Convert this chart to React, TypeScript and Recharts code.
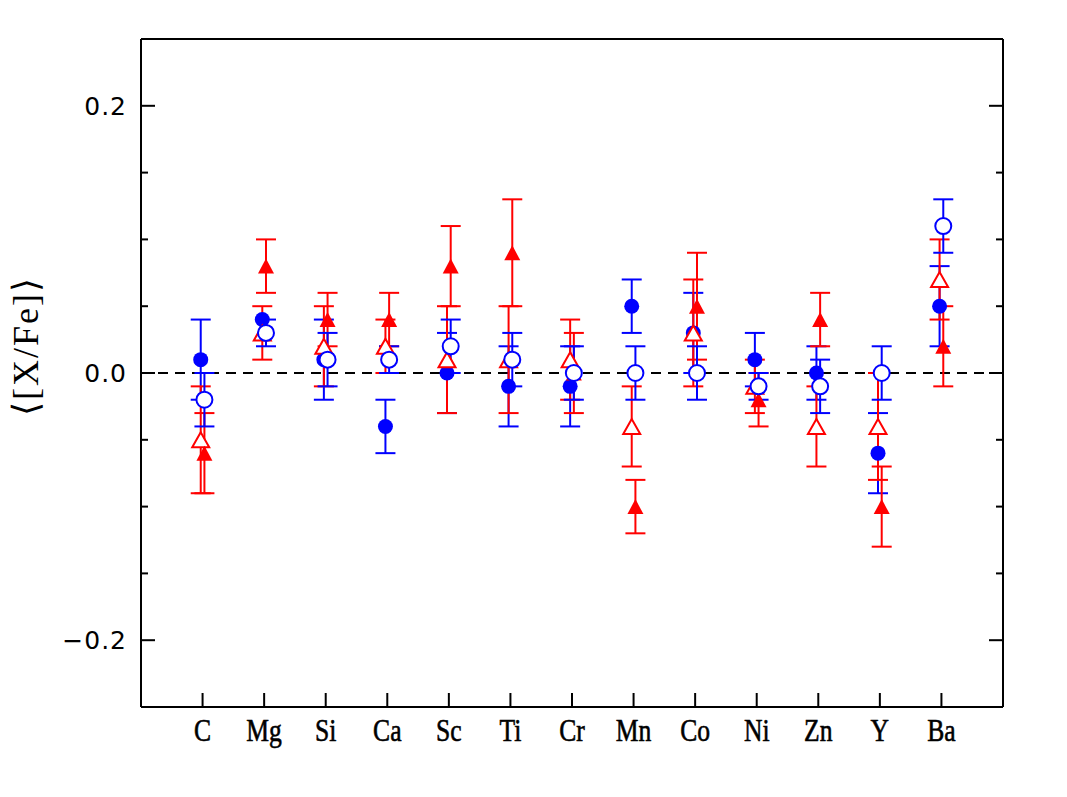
import React from 'react';
import { ScatterChart, Scatter, XAxis, YAxis, ErrorBar, ReferenceLine } from 'recharts';

const elements = ['C', 'Mg', 'Si', 'Ca', 'Sc', 'Ti', 'Cr', 'Mn', 'Co', 'Ni', 'Zn', 'Y', 'Ba'];

// blue filled circles
const fcVal = [0.01, 0.04, 0.01, -0.04, 0.0, -0.01, -0.01, 0.05, 0.03, 0.01, 0.0, -0.06, 0.05];
const fcErr = [0.03, 0.0, 0.03, 0.02, 0.03, 0.03, 0.03, 0.02, 0.03, 0.02, 0.02, 0.03, 0.03];
// blue open circles
const ocVal = [-0.02, 0.03, 0.01, 0.01, 0.02, 0.01, 0.0, 0.0, 0.0, -0.01, -0.01, 0.0, 0.11];
const ocErr = [0.02, 0.01, 0.02, 0.01, 0.02, 0.02, 0.02, 0.02, 0.02, 0.01, 0.02, 0.02, 0.02];
// red filled triangles
const ftVal = [-0.06, 0.08, 0.04, 0.04, 0.08, 0.09, 0.0, -0.1, 0.05, -0.02, 0.04, -0.1, 0.02];
const ftErr = [0.03, 0.02, 0.02, 0.02, 0.03, 0.04, 0.03, 0.02, 0.04, 0.02, 0.02, 0.03, 0.03];
// red open triangles
const otVal = [-0.05, 0.03, 0.02, 0.02, 0.01, 0.01, 0.01, -0.04, 0.03, -0.01, -0.04, -0.04, 0.07];
const otErr = [0.04, 0.02, 0.03, 0.02, 0.04, 0.04, 0.03, 0.03, 0.04, 0.02, 0.03, 0.04, 0.03];

const xTicks = [1, 2, 3, 4, 5, 6, 7, 8, 9, 10, 11, 12, 13];
const yTicks = [-0.2, -0.15, -0.1, -0.05, 0, 0.05, 0.1, 0.15, 0.2];
const yMajor = [-0.2, 0, 0.2];
const yLabels = ['\u22120.2', '0.0', '0.2'];

const LEFT_OFF = -0.03;
const RIGHT_OFF = 0.03;

const build = (vals: number[], errs: number[], off: number) =>
  vals.map((v, i) => ({ x: i + 1 + off, y: v, e: errs[i] }));

const fcData = build(fcVal, fcErr, LEFT_OFF);
const ocData = build(ocVal, ocErr, RIGHT_OFF);
const ftData = build(ftVal, ftErr, RIGHT_OFF);
const otData = build(otVal, otErr, LEFT_OFF);

const BLUE = '#0000ff';
const RED = '#ff0000';

const isMajor = (v: number) => yMajor.some((m) => Math.abs(m - v) < 1e-9);

const LeftTick = (props: any) => {
  const { x, y, payload } = props;
  const v = payload.value;
  const major = isMajor(v);
  const idx = yMajor.findIndex((m) => Math.abs(m - v) < 1e-9);
  return (
    <g>
      <line x1={x} x2={x + (major ? 14 : 7)} y1={y} y2={y} stroke="#000" strokeWidth={2} />
      {major && (
        <text x={x - 14} y={y} dy="0.36em" textAnchor="end" fontFamily="DejaVu Sans" fontSize={25} letterSpacing={1} fill="#000">
          {yLabels[idx]}
        </text>
      )}
    </g>
  );
};

const RightTick = (props: any) => {
  const { x, y, payload } = props;
  const major = isMajor(payload.value);
  return <line x1={x - (major ? 14 : 7)} x2={x} y1={y} y2={y} stroke="#000" strokeWidth={2} />;
};

const BottomTick = (props: any) => {
  const { x, y, payload } = props;
  const name = elements[Math.round(payload.value) - 1] ?? '';
  return (
    <g>
      <line x1={x} x2={x} y1={y - 14} y2={y} stroke="#000" strokeWidth={2} />
      <text
        transform={`translate(${x},${y + 34}) scale(0.8,1)`}
        textAnchor="middle"
        fontFamily="Liberation Serif"
        fontSize={32}
        stroke="#000"
        strokeWidth={0.6}
        fill="#000"
      >
        {name}
      </text>
    </g>
  );
};

const TopTick = (props: any) => {
  const { x, y } = props;
  return <line x1={x} x2={x} y1={y} y2={y + 14} stroke="#000" strokeWidth={2} />;
};

const FilledCircle = (p: any) => <circle cx={p.cx} cy={p.cy} r={7.5} fill={BLUE} />;
const OpenCircle = (p: any) => <circle cx={p.cx} cy={p.cy} r={8} fill="#fff" stroke={BLUE} strokeWidth={2} />;
const triPts = (cx: number, cy: number, w: number, h: number) =>
  `${cx},${cy - h / 2} ${cx - w / 2},${cy + h / 2} ${cx + w / 2},${cy + h / 2}`;
const FilledTri = (p: any) => <polygon points={triPts(p.cx, p.cy, 16, 15)} fill={RED} />;
const OpenTri = (p: any) => (
  <polygon points={triPts(p.cx, p.cy, 17, 15)} fill="#fff" stroke={RED} strokeWidth={2} strokeLinejoin="miter" />
);

const YLabel = () => (
  <text
    transform="translate(38,346) rotate(-90)"
    textAnchor="middle"
    fontFamily="Liberation Serif"
    fontSize={36}
    letterSpacing={2}
    fill="#000"
  >
    {'\u27E8[X/Fe]\u27E9'}
  </text>
);

export default function App() {
  return (
    <div style={{ position: 'absolute', left: 0, top: 0, width: 1067, height: 797, background: '#fff' }}>
      <ScatterChart width={1067} height={797} margin={{ top: 38, right: 63, bottom: 0, left: 0 }}>
        <XAxis
          xAxisId="b"
          type="number"
          dataKey="x"
          domain={[0, 14]}
          ticks={xTicks}
          allowDataOverflow
          orientation="bottom"
          height={90}
          tickSize={0}
          tickMargin={0}
          axisLine={{ stroke: '#000', strokeWidth: 2 }}
          tickLine={false}
          tick={<BottomTick />}
          interval={0}
        />
        <XAxis
          xAxisId="t"
          type="number"
          domain={[0, 14]}
          ticks={xTicks}
          allowDataOverflow
          orientation="top"
          height={1}
          tickSize={0}
          tickMargin={0}
          axisLine={{ stroke: '#000', strokeWidth: 2 }}
          tickLine={false}
          tick={<TopTick />}
          interval={0}
        />
        <YAxis
          yAxisId="l"
          type="number"
          dataKey="y"
          domain={[-0.25, 0.25]}
          ticks={yTicks}
          allowDataOverflow
          orientation="left"
          width={141}
          tickSize={0}
          tickMargin={0}
          axisLine={{ stroke: '#000', strokeWidth: 2 }}
          tickLine={false}
          tick={<LeftTick />}
          interval={0}
          label={<YLabel />}
        />
        <YAxis
          yAxisId="r"
          type="number"
          domain={[-0.25, 0.25]}
          ticks={yTicks}
          allowDataOverflow
          orientation="right"
          width={1}
          tickSize={0}
          tickMargin={0}
          axisLine={{ stroke: '#000', strokeWidth: 2 }}
          tickLine={false}
          tick={<RightTick />}
          interval={0}
        />
        <ReferenceLine xAxisId="b" yAxisId="l" y={0} stroke="#000" strokeWidth={2} strokeDasharray="10 7" />
        <Scatter xAxisId="b" yAxisId="l" data={fcData} shape={FilledCircle} isAnimationActive={false}>
          <ErrorBar dataKey="e" direction="y" stroke={BLUE} strokeWidth={2} width={10} isAnimationActive={false} />
        </Scatter>
        <Scatter xAxisId="b" yAxisId="l" data={otData} shape={OpenTri} isAnimationActive={false}>
          <ErrorBar dataKey="e" direction="y" stroke={RED} strokeWidth={2} width={10} isAnimationActive={false} />
        </Scatter>
        <Scatter xAxisId="b" yAxisId="l" data={ftData} shape={FilledTri} isAnimationActive={false}>
          <ErrorBar dataKey="e" direction="y" stroke={RED} strokeWidth={2} width={10} isAnimationActive={false} />
        </Scatter>
        <Scatter xAxisId="b" yAxisId="l" data={ocData} shape={OpenCircle} isAnimationActive={false}>
          <ErrorBar dataKey="e" direction="y" stroke={BLUE} strokeWidth={2} width={10} isAnimationActive={false} />
        </Scatter>
      </ScatterChart>
    </div>
  );
}
